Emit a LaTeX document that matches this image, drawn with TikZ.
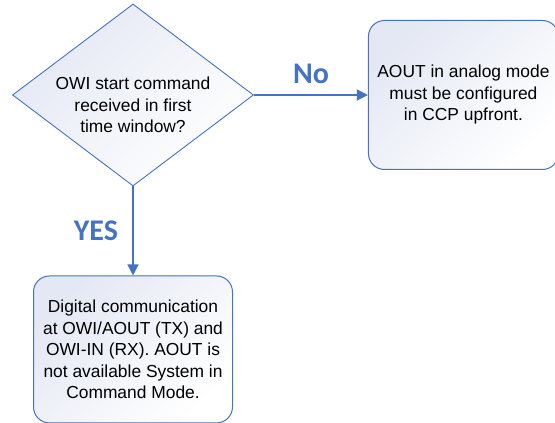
\documentclass[tikz,border=0pt]{standalone}
\usepackage{fontspec}
\setmainfont{Liberation Sans}
\newfontfamily\labelfont{Carlito}
\usetikzlibrary{shapes.geometric, arrows.meta, positioning}
\definecolor{flowblue}{HTML}{4472C4}
\definecolor{flowfill}{HTML}{E4E8F4}
\tikzstyle{decision} = [diamond, aspect=1.32, draw=flowblue, line width=0.9pt, top color=flowfill, bottom color=white, shading angle=45, minimum width=241pt, minimum height=182pt, inner sep=-10pt, align=center]
\tikzstyle{block} = [rectangle, draw=flowblue, line width=1pt, top color=flowfill, bottom color=white, shading angle=45, rounded corners=16pt, align=center]
\tikzstyle{line} = [draw=flowblue, line width=1.4pt, -{Triangle[length=11pt, width=11pt]}]
\tikzstyle{answer} = [font=\labelfont\bfseries\fontsize{30}{34}\selectfont, text=flowblue]

\begin{document}
\begin{tikzpicture}[x=1pt, y=1pt, font=\fontsize{17.4}{21.5}\selectfont]
    \useasboundingbox (0,0) rectangle (555,423);
    % Nodes
    \node [decision] (decision) at (133,328) {\rule{0pt}{33pt}OWI start command\\received in first\\time window?};
    \node [block, minimum width=190pt, minimum height=149pt, right=114pt of decision.east] (analog) {AOUT in analog mode\\must be configured\\in CCP upfront.};
    \node [block, minimum width=199pt, minimum height=147pt, below=89pt of decision.south] (digital) {Digital communication\\at OWI/AOUT (TX) and\\OWI-IN (RX). AOUT is\\not available System in\\Command Mode.};

    % Lines
    \path [line] (decision.east) -- node [answer, above, yshift=7pt] {No} (analog.west);
    \path [line] (decision.south) -- node [answer, left, xshift=-11pt] {YES} (digital.north);
\end{tikzpicture}
\end{document}
